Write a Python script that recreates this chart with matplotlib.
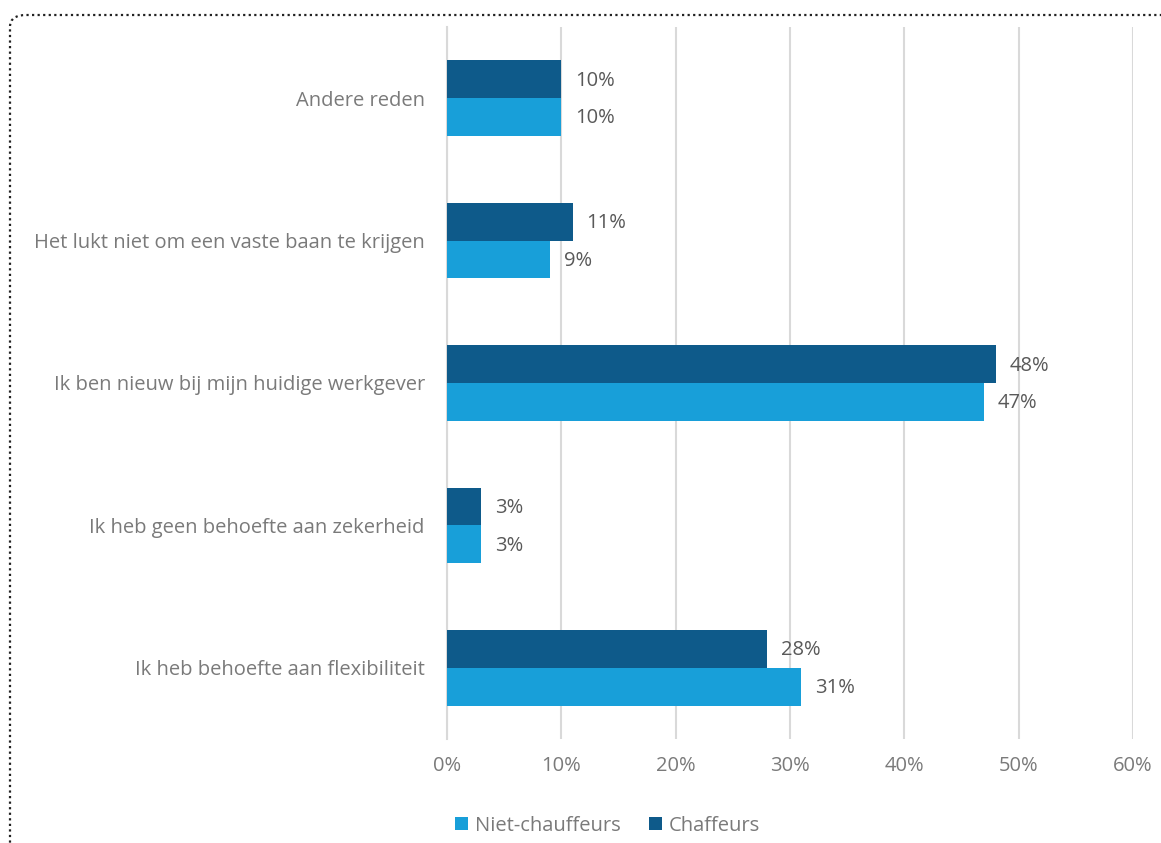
import matplotlib.pyplot as plt
from matplotlib.patches import FancyBboxPatch
import numpy as np

plt.rcParams['font.family'] = ['Open Sans', 'DejaVu Sans']

# categories bottom to top
categories = ["Ik heb behoefte aan flexibiliteit",
              "Ik heb geen behoefte aan zekerheid",
              "Ik ben nieuw bij mijn huidige werkgever",
              "Het lukt niet om een vaste baan te krijgen",
              "Andere reden"]
niet_chauffeurs = [31, 3, 47, 9, 10]
chauffeurs = [28, 3, 48, 11, 10]
xticks = [0, 10, 20, 30, 40, 50, 60]

light = "#189FD9"
dark = "#0E5A8A"
grey = "#595959"
label_grey = "#7A7A7A"

fig = plt.figure(figsize=(11.61, 8.43), dpi=100)
ax = fig.add_axes([447 / 1161, 1 - 739 / 843, (1133 - 447) / 1161, (739 - 27) / 843])

y = np.arange(len(categories))
h = 0.265
ax.barh(y - h / 2, niet_chauffeurs, height=h, color=light, label="Niet-chauffeurs", zorder=3)
ax.barh(y + h / 2, chauffeurs, height=h, color=dark, label="Chaffeurs", zorder=3)

for yi, v in zip(y, niet_chauffeurs):
    ax.text(v + 1.2, yi - h / 2 - 0.01, f"{v}%", va="center", ha="left", fontsize=14.5, color=grey)
for yi, v in zip(y, chauffeurs):
    ax.text(v + 1.2, yi + h / 2 - 0.01, f"{v}%", va="center", ha="left", fontsize=14.5, color=grey)

ax.set_xlim(0, 60)
ax.set_ylim(-0.5, len(categories) - 0.5)
ax.set_xticks(xticks)
ax.set_xticklabels([f"{t}%" for t in xticks])
ax.set_yticks(y)
ax.set_yticklabels(categories)
ax.tick_params(axis="both", length=0, labelsize=14.5, labelcolor=label_grey)
ax.tick_params(axis="x", pad=12)
ax.tick_params(axis="y", pad=16)
ax.grid(axis="x", color="#D9D9D9", linewidth=1.5, zorder=0)
for s in ["top", "right", "bottom"]:
    ax.spines[s].set_visible(False)
ax.spines["left"].set_color("#D9D9D9")
ax.spines["left"].set_linewidth(1.5)

ax.legend(loc="upper center", bbox_to_anchor=(0.234, -0.082), ncol=2, frameon=False,
          fontsize=14.5, labelcolor=label_grey, handlelength=0.65, handleheight=0.65,
          columnspacing=1.4, handletextpad=0.35)

# dotted border with rounded top-left corner
border = FancyBboxPatch((10 / 1161, -0.2), 1.2, 1 - 15 / 843 + 0.2,
                        boxstyle="round,pad=0,rounding_size=0.014",
                        transform=fig.transFigure, fill=False, edgecolor="#222222",
                        linestyle=(0, (1, 1.5)), linewidth=1.6, clip_on=False)
fig.patches.append(border)

fig.savefig("out.png", dpi=100)
